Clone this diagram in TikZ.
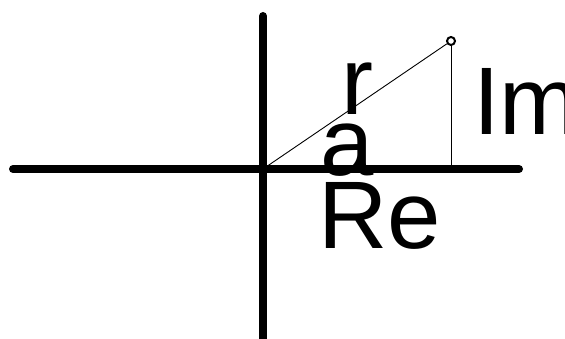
\documentclass[tikz,border=0pt]{standalone}
\usepackage{fontspec}
\setmainfont{Liberation Sans}
\begin{document}
\begin{tikzpicture}[x=1pt,y=-1pt,
  axis/.style={line width=8pt,line cap=round},
  thinline/.style={line width=0.9pt},
  lbl/.style={inner sep=0pt,anchor=base west,font=\fontsize{96}{96}\selectfont},
  pt/.style={circle,draw,line width=2pt,minimum size=8pt,inner sep=0pt}]
\useasboundingbox (0,0) rectangle (565,339);
\coordinate (O) at (263,169);
\coordinate (xl) at (13,169);
\coordinate (xr) at (519,169);
\coordinate (yt) at (263,16);
\coordinate (yb) at (263,345);
\node[pt] (P) at (451,41) {};
\coordinate (F) at (451,169);
\node[lbl] (r) at (341,115) {r};
\node[lbl] (a) at (320,176) {a};
\node[lbl] (Re) at (318,248) {Re};
\node[lbl] (Im) at (473,135) {Im};
\draw[thinline] (O) -- (P);
\draw[thinline] (P) -- (F);
\draw[axis] (xl) -- (xr);
\draw[axis] (yt) -- (yb);
\end{tikzpicture}
\end{document}
